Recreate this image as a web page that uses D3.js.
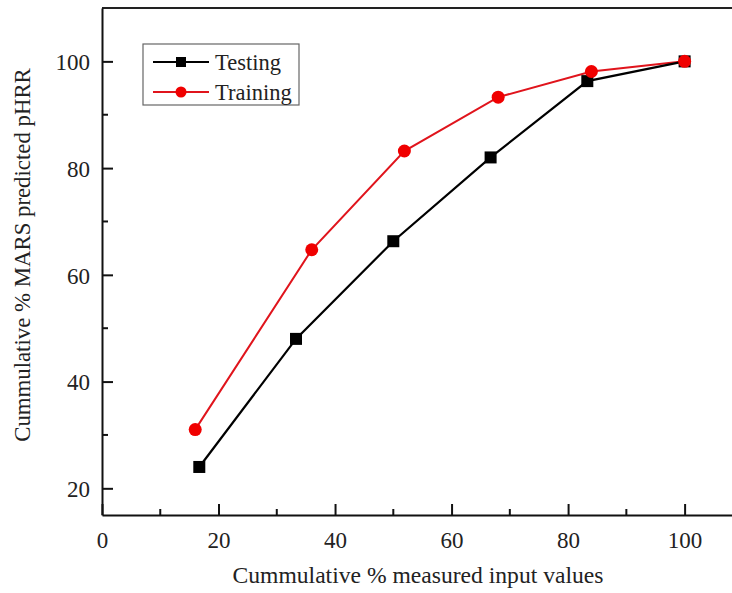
<!DOCTYPE html>
<html>
<head>
<meta charset="utf-8">
<script src="https://cdn.jsdelivr.net/npm/d3@7"></script>
<style>
  body { margin: 0; background: #fff; }
  svg { display: block; font-family: 'Liberation Serif', 'Times New Roman', serif; }
</style>
</head>
<body>
<div id="chart"></div>
<script>
// cumulative % values
var testingX = [16.7, 33.3, 50, 66.7, 83.3, 100];
var testingY = [24, 48, 66.3, 82, 96.3, 100];
var trainingX = [16, 36, 51.9, 68, 84, 100];
var trainingY = [31, 64.7, 83.2, 93.3, 98.1, 100];
var xTicks = [0, 20, 40, 60, 80, 100];
var yTicks = [20, 40, 60, 80, 100];

var svg = d3.select('#chart').append('svg')
        .attr('width', 732)
        .attr('height', 593),
    margin = {top: 8, left: 102, bottom: 78},
    width = 772 - margin.left,   // plot runs off the right edge
    height = 593 - margin.top - margin.bottom;

var x = d3.scaleLinear().domain([0, 115]).range([0, width]),
    y = d3.scaleLinear().domain([15, 110]).range([height, 0]);

var g = svg.append('g')
        .attr('transform', 'translate(' + margin.left + ',' + margin.top + ')');

// top border
g.append('line')
    .attr('x1', 0).attr('x2', width).attr('y1', 0).attr('y2', 0)
    .attr('stroke', '#222').attr('stroke-width', 2);

// minor ticks
g.selectAll('.xminor')
    .data(d3.range(10, 115, 20))
    .enter().append('line')
    .attr('x1', function(d) { return x(d); })
    .attr('x2', function(d) { return x(d); })
    .attr('y1', height).attr('y2', height - 6)
    .attr('stroke', '#111').attr('stroke-width', 2);

g.selectAll('.yminor')
    .data(d3.range(30, 110, 20))
    .enter().append('line')
    .attr('x1', 0).attr('x2', 6)
    .attr('y1', function(d) { return y(d); })
    .attr('y2', function(d) { return y(d); })
    .attr('stroke', '#111').attr('stroke-width', 2);

var xAxis = g.append('g')
    .attr('transform', 'translate(0,' + height + ')')
    .call(d3.axisBottom(x).tickValues(xTicks).tickSizeInner(-11).tickSizeOuter(0).tickPadding(17));

var yAxis = g.append('g')
    .call(d3.axisLeft(y).tickValues(yTicks).tickSizeInner(-11).tickSizeOuter(0).tickPadding(12));

[xAxis, yAxis].forEach(function(a) {
    a.attr('font-family', "'Liberation Serif', serif").attr('font-size', 23);
    a.select('.domain').attr('stroke', '#111').attr('stroke-width', 2);
    a.selectAll('.tick line').attr('stroke', '#111').attr('stroke-width', 2);
    a.selectAll('.tick text').attr('fill', '#222');
});
yAxis.selectAll('.tick text').attr('dy', '0.36em');

// axis titles
svg.append('text')
    .attr('x', 418)
    .attr('y', 583)
    .attr('text-anchor', 'middle')
    .attr('fill', '#222')
    .style('font-size', '23.6px')
    .text('Cummulative % measured input values');

svg.append('text')
    .attr('transform', 'translate(30,255) rotate(-90)')
    .attr('text-anchor', 'middle')
    .attr('fill', '#222')
    .style('font-size', '22.8px')
    .text('Cummulative % MARS predicted pHRR');

var line = d3.line()
    .x(function(d) { return x(d[0]); })
    .y(function(d) { return y(d[1]); });

var testing = d3.zip(testingX, testingY),
    training = d3.zip(trainingX, trainingY);

g.append('path')
    .datum(training)
    .attr('d', line)
    .attr('fill', 'none')
    .attr('stroke', '#e0141c')
    .attr('stroke-width', 2);

g.append('path')
    .datum(testing)
    .attr('d', line)
    .attr('fill', 'none')
    .attr('stroke', '#000')
    .attr('stroke-width', 2.2);

g.selectAll('.sq')
    .data(testing)
    .enter().append('rect')
    .attr('x', function(d) { return x(d[0]) - 6; })
    .attr('y', function(d) { return y(d[1]) - 6; })
    .attr('width', 12).attr('height', 12)
    .attr('fill', '#000');

g.selectAll('.dot')
    .data(training)
    .enter().append('circle')
    .attr('cx', function(d) { return x(d[0]); })
    .attr('cy', function(d) { return y(d[1]); })
    .attr('r', 6.5)
    .attr('fill', '#f00000');

// legend
var legend = svg.append('g').attr('transform', 'translate(143,44)');

legend.append('rect')
    .attr('width', 156).attr('height', 61)
    .attr('fill', '#fff')
    .attr('stroke', '#666').attr('stroke-width', 1.2);

var items = [
    {name: 'Testing', color: '#000', shape: 'square'},
    {name: 'Training', color: '#e0141c', shape: 'circle'}
];

items.forEach(function(it, i) {
    var cy = 18 + i * 30;
    legend.append('line')
        .attr('x1', 10).attr('x2', 66)
        .attr('y1', cy).attr('y2', cy)
        .attr('stroke', it.color).attr('stroke-width', 2);
    if (it.shape === 'square') {
        legend.append('rect')
            .attr('x', 33).attr('y', cy - 5)
            .attr('width', 10).attr('height', 10)
            .attr('fill', '#000');
    } else {
        legend.append('circle')
            .attr('cx', 38).attr('cy', cy).attr('r', 5.5)
            .attr('fill', '#f00000');
    }
    legend.append('text')
        .attr('x', 72).attr('y', cy)
        .attr('dy', '0.35em')
        .attr('fill', '#222')
        .style('font-size', '22.5px')
        .text(it.name);
});
</script>
</body>
</html>
